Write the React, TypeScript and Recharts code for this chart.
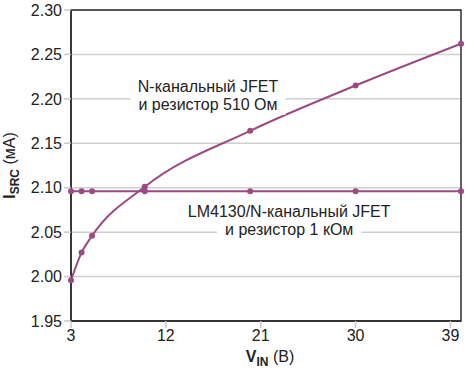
import React from "react";
import {
  LineChart,
  Line,
  XAxis,
  YAxis,
  CartesianGrid,
  ReferenceArea,
  ReferenceDot,
  Label,
} from "recharts";

const vin = [3, 4, 5, 10, 20, 30, 40];
const jfetSeries = [1.996, 2.027, 2.046, 2.101, 2.164, 2.215, 2.262];
const lmSeries = [2.096, 2.096, 2.096, 2.096, 2.096, 2.096, 2.096];
const xTicks = [3, 12, 21, 30, 39];
const yTicks = [1.95, 2.0, 2.05, 2.1, 2.15, 2.2, 2.25, 2.3];

const notes = [
  { x: 16, y: 2.208, lines: ["N-канальный JFET", "и резистор 510 Ом"] },
  { x: 23.7, y: 2.067, lines: ["LM4130/N-канальный JFET", "и резистор 1 кОм"] },
];

const data = vin.map((v, i) => ({ vin: v, jfet: jfetSeries[i], lm: lmSeries[i] }));

const FONT = "'Liberation Sans', Arial, sans-serif";
const PURPLE = "#9b4a82";
const AXIS = "#2b2b2b";

let ctx: CanvasRenderingContext2D | null = null;
function measure(text: string, size: number) {
  if (!ctx) ctx = document.createElement("canvas").getContext("2d");
  if (!ctx) return text.length * size * 0.5;
  ctx.font = `${size}px ${FONT}`;
  return ctx.measureText(text).width;
}

function NoteShape(props: any) {
  const { cx, cy, lines } = props;
  const size = 16;
  const step = 18;
  return (
    <g>
      {lines.map((t: string, i: number) => {
        const w = measure(t, size) + 16;
        return (
          <rect
            key={"r" + i}
            x={cx - w / 2}
            y={cy + i * step - 13}
            width={w}
            height={step}
            fill="#fff"
          />
        );
      })}
      {lines.map((t: string, i: number) => (
        <text
          key={"t" + i}
          x={cx}
          y={cy + i * step}
          textAnchor="middle"
          fontSize={size}
          fontFamily={FONT}
          fill="#222"
        >
          {t}
        </text>
      ))}
    </g>
  );
}

function YLabel(props: any) {
  const vb = props.viewBox || {};
  const x = 15;
  const y = vb.y + vb.height / 2;
  return (
    <text
      x={x}
      y={y}
      transform={`rotate(-90, ${x}, ${y})`}
      textAnchor="middle"
      fontFamily={FONT}
      fontSize={16}
      fill="#222"
    >
      <tspan fontWeight="bold">I</tspan>
      <tspan fontWeight="bold" fontSize={12} dy={4}>SRC</tspan>
      <tspan dy={-4}> (мА)</tspan>
    </text>
  );
}

function XLabel(props: any) {
  const vb = props.viewBox || {};
  const x = vb.x + vb.width / 2 + 4;
  const y = 362;
  return (
    <text x={x} y={y} textAnchor="middle" fontFamily={FONT} fontSize={16} fill="#222">
      <tspan fontWeight="bold">V</tspan>
      <tspan fontWeight="bold" fontSize={12} dy={4}>IN</tspan>
      <tspan dy={-4}> (В)</tspan>
    </text>
  );
}

export default function App() {
  return (
    <div style={{ position: "absolute", left: 0, top: 0, background: "#fff" }}>
      <LineChart
        width={467}
        height={373}
        data={data}
        margin={{ top: 10, right: 6, bottom: 22, left: 0 }}
      >
        <CartesianGrid vertical={false} stroke="#cfcfcf" strokeWidth={1.5} />
        <XAxis
          type="number"
          dataKey="vin"
          domain={[3, 40]}
          ticks={xTicks}
          height={30}
          stroke={AXIS}
          strokeWidth={1.5}
          tickLine={{ stroke: "#c8c8c8", strokeWidth: 1.5 }}
          tickSize={7}
          tick={{ fill: "#222", fontSize: 16, fontFamily: FONT }}
        >
          <Label content={<XLabel />} />
        </XAxis>
        <YAxis
          type="number"
          domain={[1.95, 2.3]}
          ticks={yTicks}
          width={71}
          stroke={AXIS}
          strokeWidth={1.5}
          tickLine={{ stroke: "#c8c8c8", strokeWidth: 1.5 }}
          tickSize={7}
          tickFormatter={(v: number) => v.toFixed(2)}
          tick={{ fill: "#222", fontSize: 16, fontFamily: FONT }}
        >
          <Label content={<YLabel />} />
        </YAxis>
        <ReferenceArea
          x1={3}
          x2={40}
          y1={1.95}
          y2={2.3}
          fill="none"
          stroke={AXIS}
          strokeWidth={1.5}
          fillOpacity={0}
        />
        {notes.map((n, i) => (
          <ReferenceDot
            key={i}
            x={n.x}
            y={n.y}
            shape={(p: any) => <NoteShape {...p} lines={n.lines} />}
          />
        ))}
        <Line
          type="linear"
          dataKey="lm"
          stroke={PURPLE}
          strokeWidth={2}
          dot={{ r: 3, fill: PURPLE, stroke: PURPLE, strokeWidth: 0 }}
          isAnimationActive={false}
        />
        <Line
          type="monotone"
          dataKey="jfet"
          stroke={PURPLE}
          strokeWidth={2}
          dot={{ r: 3, fill: PURPLE, stroke: PURPLE, strokeWidth: 0 }}
          isAnimationActive={false}
        />
      </LineChart>
    </div>
  );
}
